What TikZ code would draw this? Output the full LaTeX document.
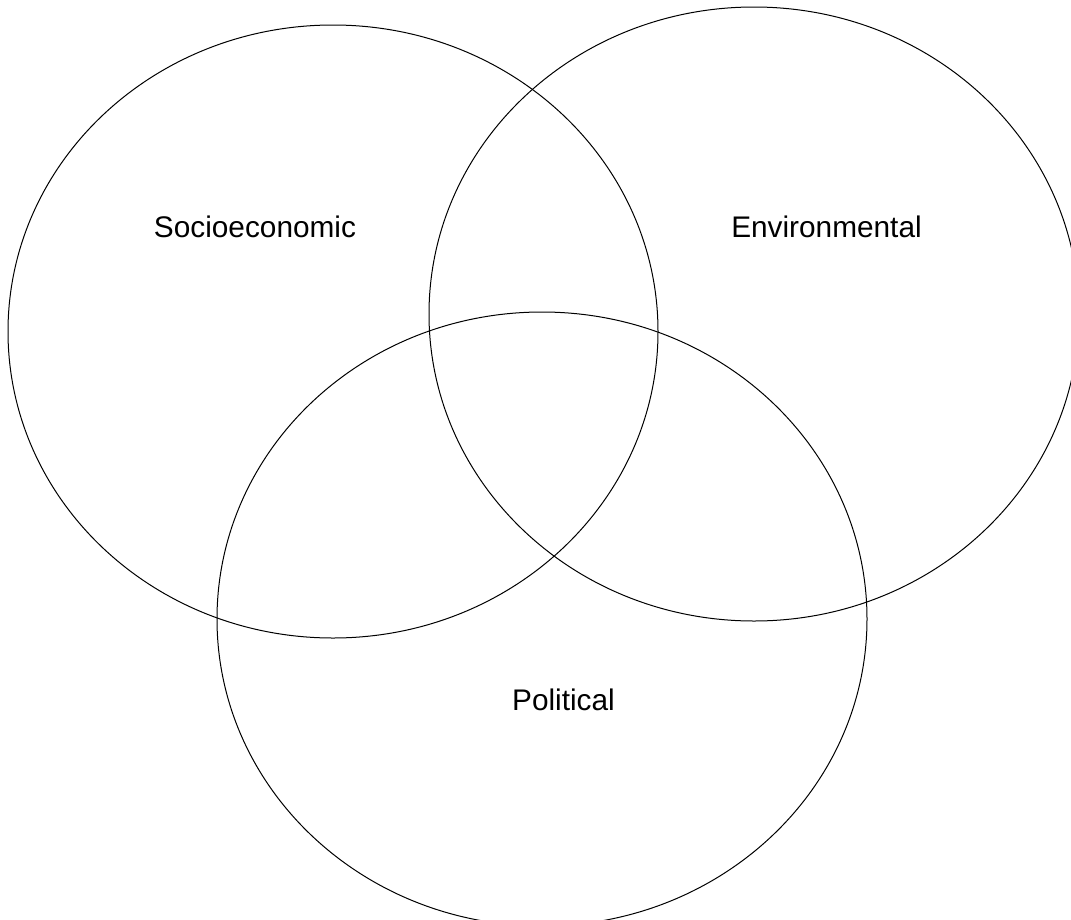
\documentclass[tikz,border=0pt]{standalone}
\usepackage{fontspec}
\setmainfont{Liberation Sans}
\begin{document}
\begin{tikzpicture}[x=1pt,y=-1pt,
  venn/.style={draw=black,line width=1pt},
  lbl/.style={anchor=base,inner sep=0pt,font=\fontsize{29.8}{36}\selectfont}]
\useasboundingbox (0,0) rectangle (1071,919);
\clip (0,0) rectangle (1071,919);
\fill[white] (0,0) rectangle (1071,919);
\draw[venn] (333,331.5) ellipse [x radius=325, y radius=306.5];
\draw[venn] (754,314) ellipse [x radius=325, y radius=307];
\draw[venn] (542,619) ellipse [x radius=325, y radius=307];
\node[lbl] (socio) at (255,237) {Socioeconomic};
\node[lbl] (env) at (826.5,237) {Environmental};
\node[lbl] (pol) at (563.5,710) {Political};
\end{tikzpicture}
\end{document}
